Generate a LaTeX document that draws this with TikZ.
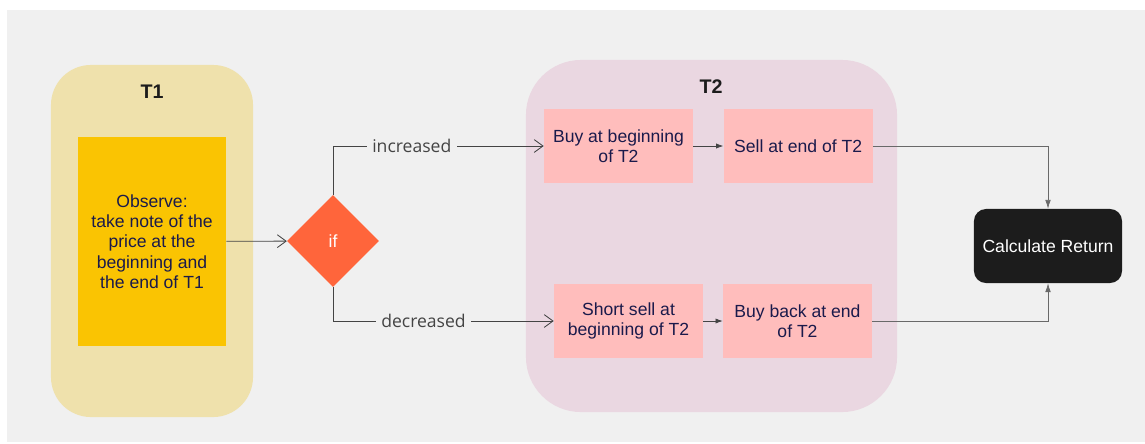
\documentclass[tikz,border=0pt]{standalone}
\usepackage{fontspec}
\setmainfont{Liberation Sans}
\newfontfamily\labelfont{Open Sans}
\usetikzlibrary{arrows.meta, positioning, shapes.geometric}

\definecolor{canvas}{HTML}{F0F0F0}
\definecolor{khaki}{HTML}{EFE1AC}
\definecolor{gold}{HTML}{FAC402}
\definecolor{tomato}{HTML}{FF653B}
\definecolor{lilac}{HTML}{EAD7E1}
\definecolor{salmon}{HTML}{FFBDBC}
\definecolor{navy}{HTML}{1A1A4B}
\definecolor{ink}{HTML}{1C1C1C}
\definecolor{wire}{HTML}{444444}

\begin{document}
\begin{tikzpicture}[
    x=0.025cm, y=-0.025cm,
    font=\fontsize{12.5}{14.5}\selectfont,
    phase/.style={rectangle, rounded corners=1cm, minimum width=5.05cm, minimum height=8.8cm},
    title/.style={font=\fontsize{14}{16}\selectfont\bfseries, text=ink},
    action/.style={rectangle, fill=salmon, text=navy, align=center, minimum width=3.725cm, minimum height=1.85cm, inner sep=2pt},
    branch/.style={draw=wire, line width=0.6pt, -{Straight Barb[length=2.2mm, width=3.2mm]}},
    chain/.style={draw=wire, line width=0.5pt, -{Latex[length=1.8mm, width=1.3mm]}},
    merge/.style={draw=wire!80, line width=0.5pt, -{Latex[length=2.2mm, width=1.4mm]}},
    tag/.style={font=\labelfont\fontsize{12.5}{14}\selectfont, text=wire, fill=canvas, inner sep=4pt}
]
    \useasboundingbox (0,0) rectangle (1145,443);
    \fill[canvas] (7,10) rectangle (1145,442);

    % T1 phase
    \node[phase, fill=khaki] (t1) at (152,241) {};
    \node[title] (t1_title) at (152,92) {T1};
    \node[rectangle, fill=gold, text=navy, align=center, minimum width=3.7cm, minimum height=5.225cm] (observe) at (152,241.5)
        {Observe:\\take note of the\\price at the\\beginning and\\the end of T1};

    % decision
    \node[diamond, fill=tomato, text=white, minimum width=2.3cm, minimum height=2.3cm, inner sep=0pt, aspect=1] (decide) at (333,241) {if};

    % T2 phase
    \node[phase, fill=lilac, rounded corners=1.375cm, minimum width=9.275cm] (t2) at (711.5,236) {};
    \node[title] (t2_title) at (711,87) {T2};
    \node[action] (buy) at (618.5,146) {Buy at beginning\\of T2};
    \node[action, right=0.75cm of buy] (sell) {Sell at end of T2};
    \node[action] (short) at (628.5,321) {Short sell at\\beginning of T2};
    \node[action] (buyback) at (797.5,321) {Buy back at end\\of T2};

    % result
    \node[rectangle, rounded corners=0.3cm, fill=ink, text=white, minimum width=3.7cm, minimum height=1.85cm] (calc) at (1048,246) {Calculate Return};

    \draw[branch] (observe) -- (decide);
    \draw[branch] (decide.north) |- node[tag, pos=0.687] {increased} (buy.west);
    \draw[branch] (decide.south) |- node[tag, pos=0.705] {decreased} (short.west);

    \draw[chain] (buy) -- (sell);
    \draw[chain] (short) -- (buyback);

    \draw[merge] (sell.east) -| (calc.north);
    \draw[merge] (buyback.east) -| (calc.south);
\end{tikzpicture}
\end{document}
